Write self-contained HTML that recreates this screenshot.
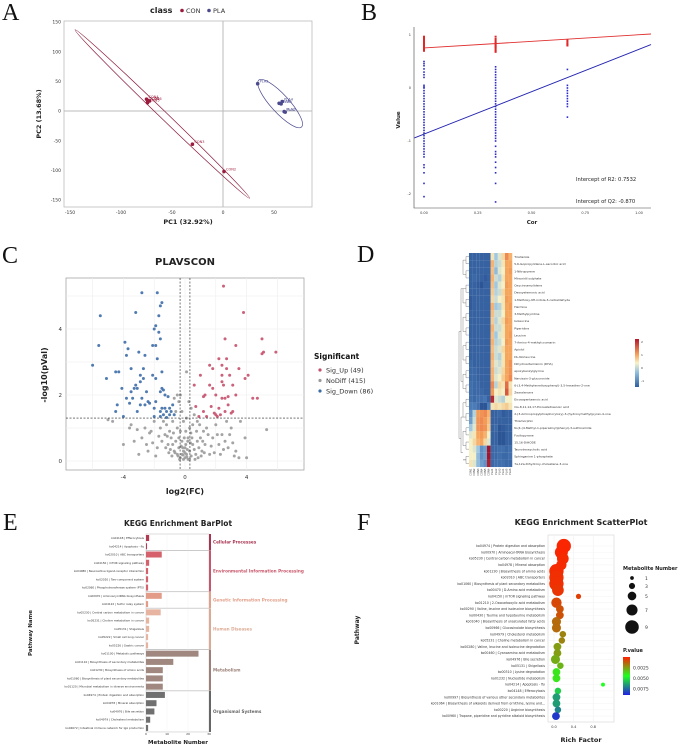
<!DOCTYPE html>
<html><head><meta charset="utf-8"><style>
html,body{margin:0;padding:0;background:#fff;}
svg{display:block;font-family:"DejaVu Sans","Liberation Sans",sans-serif;}
.pl{font-family:"Liberation Serif",serif;font-size:24px;fill:#111;}
</style></head><body>
<svg id="s" width="691" height="746" viewBox="0 0 691 746" xmlns="http://www.w3.org/2000/svg">
<defs>
<linearGradient id="hg" x1="0" y1="0" x2="0" y2="1">
<stop offset="0" stop-color="#b2182b"/><stop offset="0.33" stop-color="#f6a55c"/><stop offset="0.5" stop-color="#f7f2c8"/><stop offset="0.7" stop-color="#8fbfdc"/><stop offset="1" stop-color="#2f5f9f"/>
</linearGradient>
<linearGradient id="pg" x1="0" y1="0" x2="0" y2="1">
<stop offset="0" stop-color="#ff2000"/><stop offset="0.5" stop-color="#20ff20"/><stop offset="1" stop-color="#2020e0"/>
</linearGradient>
</defs>
<text class="pl" x="2" y="20">A</text>
<text class="pl" x="361" y="20">B</text>
<text class="pl" x="2" y="263">C</text>
<text class="pl" x="357" y="262">D</text>
<text class="pl" x="3" y="530">E</text>
<text class="pl" x="357" y="530">F</text>
<g id="gA"></g>
<g id="gB"></g>
<g id="gC"></g>
<g id="gD"></g>
<g id="gE"></g>
<g id="gF"></g>
</svg>
<script>
// ---------- Panel A data ----------
const conLabels=["CON4","CON1","CON6","CON5","CON3","CON2"];
const conPC1=[-75,-74,-72,-74,-30,1];
const conPC2=[20,18,17,14,-56,-102];
const plaLabels=["PLA5","PLA4","PLA6","PLA3","PLA2","PLA7"];
const plaPC1=[34,58,55,57,60,61];
const plaPC2=[46,16,13,12,-1,-2];
const conEllipseEnds=[[-145,137],[26,-147]];
const plaEllipseEnds=[[35,52],[77,-27]];
const aTicks=[-150,-100,-50,0,50];
// ---------- Panel B data ----------
const corLevels=[0,0.333,0.667];
const r2Vals0=[0.97,0.94,0.91,0.88,0.86,0.84,0.82,0.8,0.78,0.76,0.74,0.72,0.7];
const r2Vals1=[0.97,0.93,0.9,0.87,0.85,0.83,0.81,0.79,0.77,0.75,0.72,0.7,0.68];
const r2Vals2=[0.9,0.87,0.84,0.82,0.8];
const q2Vals0=[0.5,0.46,0.42,0.36,0.3,0.25,0.2,0.05,0.02,0,-0.05,-0.1,-0.15,-0.2,-0.25,-0.3,-0.35,-0.4,-0.45,-0.5,-0.55,-0.6,-0.65,-0.7,-0.75,-0.8,-0.85,-0.9,-0.95,-1.0,-1.05,-1.1,-1.15,-1.2,-1.25,-1.3,-1.45,-1.5,-1.6,-1.8,-2.05];
const q2Vals1=[0.4,0.35,0.3,0.25,0.2,0.15,0.1,0.05,0,-0.05,-0.1,-0.15,-0.2,-0.25,-0.3,-0.35,-0.4,-0.45,-0.5,-0.55,-0.6,-0.65,-0.7,-0.75,-0.8,-0.85,-0.9,-0.95,-1.0,-1.1,-1.2,-1.25,-1.3,-1.4,-1.5,-1.6,-1.8,-2.15];
const q2Vals2=[0.35,0.05,0,-0.05,-0.1,-0.15,-0.2,-0.25,-0.3,-0.35,-0.55];
const r2Line=[0.755,0.25];
const q2Line=[-0.87,1.6];
const bXTicks=[0,0.25,0.5,0.75,1.0];
const bXTickLabels=["0.00","0.25","0.50","0.75","1.00"];
const bYTicks=[1,0,-1,-2];
// ---------- Panel C data ----------
const upPts=[[2.5,5.3],[3.8,4.5],[2.6,3.7],[5.0,3.7],[3.3,3.5],[5.9,3.3],[5.0,3.25],[5.1,3.3],[2.2,3.1],[2.7,3.1],[1.6,2.9],[1.8,2.8],[2.4,2.9],[2.7,2.8],[3.5,2.8],[1.0,2.6],[2.4,2.6],[2.9,2.6],[3.9,2.5],[4.1,2.6],[0.6,2.3],[1.6,2.3],[1.8,2.2],[2.5,2.3],[3.1,2.3],[2.4,2.4],[1.3,2.0],[2.0,2.0],[1.2,1.95],[2.6,1.9],[2.4,1.9],[2.8,1.95],[3.3,2.0],[4.4,1.9],[4.7,1.9],[0.7,1.65],[1.7,1.65],[2.8,1.7],[2.2,1.6],[1.2,1.5],[1.9,1.45],[2.0,1.4],[2.1,1.35],[2.3,1.4],[3.0,1.45],[2.6,1.5],[0.9,1.35],[1.4,1.35],[3.1,1.5]];
const downPts=[[-2.8,5.1],[-1.8,5.1],[-5.5,4.4],[-3.2,4.5],[-1.6,4.7],[-1.5,4.8],[-1.7,4.4],[-2.0,4.0],[-1.9,4.1],[-1.7,3.9],[-1.6,3.7],[-2.1,3.5],[-1.9,3.5],[-3.9,3.6],[-3.7,3.4],[-3.0,3.3],[-5.6,3.5],[-3.8,3.2],[-2.6,3.2],[-1.8,3.1],[-6.0,2.9],[-3.5,2.8],[-2.7,2.8],[-4.5,2.7],[-4.3,2.7],[-5.1,2.5],[-2.9,2.6],[-1.5,2.7],[-2.1,2.6],[-2.7,2.5],[-1.9,2.5],[-2.9,2.4],[-4.1,2.2],[-3.2,2.3],[-3.3,2.2],[-3.1,2.2],[-2.5,2.1],[-3.5,2.1],[-1.5,2.2],[-1.4,2.15],[-1.6,2.1],[-1.3,2.0],[-1.1,1.95],[-3.8,1.9],[-3.4,1.9],[-2.8,1.9],[-2.4,1.8],[-3.6,1.75],[-2.9,1.7],[-2.6,1.7],[-1.9,1.8],[-2.3,1.75],[-4.4,1.7],[-4.5,1.5],[-3.1,1.5],[-2.0,1.6],[-1.5,1.6],[-1.3,1.6],[-1.0,1.6],[-0.8,1.7],[-1.6,1.5],[-1.2,1.5],[-1.4,1.4],[-1.0,1.4],[-0.7,1.4],[-2.0,1.35],[-4.0,1.35],[-1.6,1.35],[-1.2,1.32],[-0.9,1.5]];
const noPts=[[-0.3,0.1],[-0.2,0.2],[-0.1,0.3],[0,0.1],[0.1,0.2],[0.2,0.05],[0.3,0.3],[-0.4,0.4],[-0.5,0.2],[0.4,0.15],[0.5,0.5],[-0.6,0.6],[0.6,0.35],[-0.7,0.3],[0.7,0.2],[-0.8,0.5],[0.8,0.6],[-0.9,0.7],[0.9,0.4],[-1.0,0.9],[1.0,0.7],[-1.1,0.5],[1.1,0.3],[-1.2,1.1],[1.2,0.9],[-1.3,0.8],[1.3,0.5],[-1.4,1.2],[1.4,1.0],[-1.5,0.6],[1.5,0.8],[-1.6,1.0],[1.6,0.2],[-1.8,0.4],[1.8,0.7],[-2.0,1.2],[2.0,1.1],[-2.2,0.9],[2.2,0.5],[-2.4,0.3],[2.4,0.8],[-2.6,1.0],[2.6,0.6],[-2.8,0.7],[2.8,0.4],[-3.0,0.2],[3.0,1.0],[-3.3,0.6],[3.3,0.3],[-3.6,1.0],[3.6,1.2],[-4.0,0.5],[3.9,0.7],[-4.7,1.2],[4.0,0.1],[5.3,0.95],[-5.0,1.25],[-3.5,1.1],[3.5,0.1],[-0.2,0.6],[0.2,0.7],[-0.3,0.9],[0.3,1.0],[-0.1,1.2],[0.1,1.3],[-0.5,1.0],[0.5,1.1],[-0.6,1.5],[0.6,1.4],[-0.4,1.8],[-0.5,2.0],[-0.3,2.0],[0.4,1.6],[0.8,1.2],[-0.8,1.2],[0.1,2.7],[0,0.4],[-0.1,0.05],[0.05,0.5],[-0.25,0.45],[0.15,0.35],[0.35,0.55],[-0.45,0.15],[0.45,0.7],[-0.65,0.25],[0.65,0.05],[-0.75,0.85],[0.75,0.9],[-0.85,0.15],[0.85,0.1],[-0.95,0.35],[0.95,1.1],[1.05,0.15],[-1.05,0.25],[1.15,0.6],[-1.15,0.75],[1.25,0.25],[-1.25,0.4],[1.7,0.45],[-1.7,0.75],[1.9,0.25],[-1.9,0.15],[2.1,0.8],[-2.1,0.55],[2.3,0.2],[-2.3,0.85],[2.5,0.35],[-2.5,0.5],[2.7,1.2],[2.9,0.8],[3.1,0.55],[3.2,0.15],[-3.1,0.95],[-0.2,1.5],[0.25,1.8],[-0.7,1.9],[0.3,0.05],[-0.35,0.05],[0,0.25],[0.12,0.12],[-0.12,0.18],[-0.05,0.7],[0.05,0.9],[-0.15,0.4],[0.18,0.6],[-0.4,0.7],[0.38,0.85]];
const cXTicks=[-4,0,4];
const cYTicks=[0,2,4];
const legendLabels=["Sig_Up (49)","NoDiff (415)","Sig_Down (86)"];
// ---------- Panel D data ----------
const heatRows=["Tinidazole","5,6-Isopropylidene-L-ascorbic acid","1-Nitropyrene","Minoxidil sulphate","Oxycinnamylidene","Deoxyelemonic acid","1-Methoxy-9H-indole-3-carbaldehyde","Harmine","3-Methylpyridine","Isoleucine","Piperidine","Leucine","7-Amino-4-methylcoumarin","Apiolol","DL-Norleucine","Dihydroartemisinin (DHA)","epoxybenzylglycine","Narcissin-3-glucuronide","6-(3,4-Methylenedioxyphenyl)-3,5-hexadien-2-one","Zearalenone","Eicosapentaenoic acid","Cis-8,11,14,17-Eicosatetraenoic acid","2-(3-Aminopropylphosphoryloxy)-3-(hydroxymethyl)pyran-4-one","Thiamorphin","N-(4-(4-Methyl-1-piperazinyl)phenyl)-3-sulfonamide","Fucitopyrane","15,16-DiHODE","Taurodeoxycholic acid","Sphinganine 1-phosphate","7a,12a-Dihydroxy-cholestene-3-one"];
const heatCols=["CON1","CON2","CON3","CON4","CON5","CON6","PLA1","PLA2","PLA3","PLA4","PLA5","PLA6"];
const heatVals=[
[-1,-1,-1,-1,-1,-1,0.5,0,0.3,0.6,1.3,0.9],
[-1,-1,-1,-1,-1,-1,0.9,0.1,0.2,0.5,1,1],
[-1,-1,-1,-1,-1,-1,0.8,-0.1,0.3,0.4,1,1.1],
[-1,-0.9,-1,-1,-1.1,-1,0.9,0.2,0.1,0.5,1,1],
[-1,-1,-1.1,-1.2,-1,-1,0.8,0,0.3,0.4,1.1,1],
[-1,-1,-1,-1,-1,-1,0.7,0.1,0.2,0.6,1,1],
[-1.1,-1,-1,-1,-1,-1,0.6,0.2,0.4,0.5,1.1,1],
[-1.1,-1,-1,-1,-1,-1,0.9,0,0.1,0.5,1,1.1],
[-1,-1,-1,-1,-1,-1,0.8,0.2,0.2,0.4,1,1],
[-1,-1,-1,-1,-1,-1,0.7,0.1,0.3,0.6,1.1,1],
[-1,-1,-1,-1,-1,-1,0.9,0.2,0.2,0.5,1,1],
[-1,-1,-1,-1,-1,-1,0.8,0,0.3,0.5,1,1.1],
[-1,-1,-1,-1,-1,-1,0.9,0.1,0.2,0.4,1.1,1],
[-1,-1,-1,-1,-1,-1,0.8,0.2,0.3,0.6,1,1],
[-1,-1,-1,-1,-1,-1,0.9,0.2,0.1,0.5,1,1],
[-0.9,-1,-1,-1,-1,-1,0.8,0.3,0.2,0.5,1,1.2],
[-0.9,-0.9,-1,-1,-1,-1,0.9,0.2,0.3,0.6,1,1.2],
[-0.9,-0.9,-1,-1,-1,-1,0.9,0.3,0.4,0.7,1,1.3],
[-0.8,-0.9,-0.9,-1,-1,-1,1.3,0.1,0.6,0.5,1.6,0.5],
[-0.8,-0.9,-0.9,-0.9,-1,-1,1.1,0.4,0.5,0.4,1.8,0.6],
[-0.8,-0.9,-0.8,-0.8,-0.7,-1,2.2,0.3,0.2,0.1,0.4,0.4],
[-0.6,-0.6,-0.8,-1.3,-1.2,-0.6,0.5,0.6,0.5,0.6,0.7,0.5],
[-0.4,0.1,1.1,1.2,1.3,0.9,-1,-1,-0.9,-1.1,-1,-1],
[-0.3,0.2,1.2,1.3,1.1,0.8,-1,-1,-1,-1,-1,-1],
[0,0.3,1.2,1.3,1.2,0.7,-1,-0.9,-1.2,-1.1,-1,-1],
[0.3,0.5,1,1.1,0.9,0.4,-1,-1,-1.3,-1.2,-1,-1],
[0.4,0.6,0.9,1,0.6,0.3,-1,-1,-1.2,-1.3,-1,-1],
[0.4,0.3,0,-0.4,-0.3,2.4,-0.9,-0.9,-0.8,-0.8,-0.9,-0.8],
[0.4,0.4,-0.1,-0.4,-0.3,2.4,-0.9,-0.9,-0.8,-0.9,-0.9,-0.8],
[0.5,0.3,-0.1,-0.3,-0.4,2.3,-0.9,-0.8,-0.8,-0.8,-0.9,-0.9]];
const heatLegendTicks=[2,1,0,-1];
// ---------- Panel E data ----------
const ePathways=["ko04148 | Efferocytosis","ko04214 | Apoptosis - fly","ko02010 | ABC transporters","ko04150 | mTOR signaling pathway","ko04080 | Neuroactive ligand-receptor interaction","ko02020 | Two-component system","ko02060 | Phosphotransferase system (PTS)","ko00970 | Aminoacyl-tRNA biosynthesis","ko04122 | Sulfur relay system","ko05230 | Central carbon metabolism in cancer","ko05231 | Choline metabolism in cancer","ko05131 | Shigellosis","ko05222 | Small cell lung cancer","ko05226 | Gastric cancer","ko01100 | Metabolic pathways","ko01110 | Biosynthesis of secondary metabolites","ko01230 | Biosynthesis of amino acids","ko01060 | Biosynthesis of plant secondary metabolites","ko01120 | Microbial metabolism in diverse environments","ko04974 | Protein digestion and absorption","ko04978 | Mineral absorption","ko04976 | Bile secretion","ko04979 | Cholesterol metabolism","ko04672 | Intestinal immune network for IgA production"];
const eCounts=[1.5,0.5,7.5,1.5,1,1,1,7.5,1,7,1.5,1.5,1,1,25,13,8,8,8,9,5,4,2,1];
const eGroups=["Cellular Processes","Environmental Information Processing","Genetic Information Processing","Human Diseases","Metabolism","Organismal Systems"];
const eGroupSizes=[2,5,2,5,5,5];
const eTicks=[0,10,20,30];
// ---------- Panel F data ----------
const fPathways=["ko04974 | Protein digestion and absorption","ko00970 | Aminoacyl-tRNA biosynthesis","ko05230 | Central carbon metabolism in cancer","ko04978 | Mineral absorption","ko01230 | Biosynthesis of amino acids","ko02010 | ABC transporters","ko01060 | Biosynthesis of plant secondary metabolites","ko00470 | D-Amino acid metabolism","ko04150 | mTOR signaling pathway","ko01210 | 2-Oxocarboxylic acid metabolism","ko00290 | Valine, leucine and isoleucine biosynthesis","ko00430 | Taurine and hypotaurine metabolism","ko01040 | Biosynthesis of unsaturated fatty acids","ko00966 | Glucosinolate biosynthesis","ko04979 | Cholesterol metabolism","ko05231 | Choline metabolism in cancer","ko00280 | Valine, leucine and isoleucine degradation","ko00460 | Cyanoamino acid metabolism","ko04976 | Bile secretion","ko05131 | Shigellosis","ko00310 | Lysine degradation","ko01232 | Nucleotide metabolism","ko04214 | Apoptosis - fly","ko04148 | Efferocytosis","ko00997 | Biosynthesis of various other secondary metabolites","ko01064 | Biosynthesis of alkaloids derived from ornithine, lysine and...","ko00220 | Arginine biosynthesis","ko00960 | Tropane, piperidine and pyridine alkaloid biosynthesis"];
const fRich=[0.2,0.15,0.18,0.15,0.05,0.05,0.05,0.08,0.5,0.05,0.12,0.12,0.05,0.05,0.18,0.16,0.07,0.07,0.03,0.13,0.05,0.05,1.0,0.08,0.05,0.05,0.08,0.04];
const fCount=[9,8,7,6,9,9,9,7,2,6,4,4,5,5,3,3,4,4,5,3,4,4,1,3,4,4,3,4];
const fPval=[0.0001,0.0001,0.0002,0.0002,0.0002,0.0003,0.0003,0.0004,0.0006,0.0008,0.001,0.001,0.0015,0.0015,0.002,0.002,0.0025,0.0025,0.0028,0.003,0.004,0.004,0.0045,0.0055,0.0065,0.0065,0.007,0.0085];
const fTicks=[0,0.4,0.8];
const fSizeLegend=[1,3,5,7,9];
const fPLegend=[0.0025,0.005,0.0075];

const NS="http://www.w3.org/2000/svg";
function mk(tag,attrs,parent){const e=document.createElementNS(NS,tag);for(const k in attrs)e.setAttribute(k,attrs[k]);parent.appendChild(e);return e;}
function tx(str,attrs,parent){const e=mk("text",attrs,parent);e.textContent=str;return e;}

// ===== Panel A =====
(function(){
const g=document.getElementById("gA");
const ax=v=>223+v*1.02, ay=v=>111-v*0.593;
let el=mk("rect",{x:64,y:21,width:248,height:186,fill:"#fff",stroke:"#bbb","stroke-width":0.8},g);


el=mk("line",{x1:ax(0),x2:ax(0),y1:21,y2:207,stroke:"#bbb","stroke-width":1},g);


el=mk("line",{x1:64,x2:312,y1:ay(0),y2:ay(0),stroke:"#bbb","stroke-width":1},g);


aTicks.forEach(t=>{
 el=tx(String(t),{x:ax(t),y:214,"font-size":4.5,"text-anchor":"middle",fill:"#333"},g);
 
 
});
[150,100,50,0,-50,-100,-150].forEach(t=>{
 el=tx(String(t),{x:61,y:ay(t)+1.6,"font-size":4.5,"text-anchor":"end",fill:"#333"},g);
 
 
});
function ell(ends,hw,col,name){
 const x1=ax(ends[0][0]),y1=ay(ends[0][1]),x2=ax(ends[1][0]),y2=ay(ends[1][1]);
 const cx=(x1+x2)/2,cy=(y1+y2)/2,rx=Math.hypot(x2-x1,y2-y1)/2,ang=Math.atan2(y2-y1,x2-x1)*180/Math.PI;
 const e=mk("ellipse",{cx:cx,cy:cy,rx:rx,ry:hw,fill:"none",stroke:col,"stroke-width":0.7,transform:`rotate(${ang} ${cx} ${cy})`},g);
 
 
}
ell(conEllipseEnds,3.6,"#8b1a3a","con-ellipse");
ell(plaEllipseEnds,9,"#4b4a8f","pla-ellipse");
function pts(xs,ys,labs,col,name){
 xs.forEach((v,i)=>{
  const p=mk("circle",{cx:ax(v),cy:ay(ys[i]),r:1.8,fill:col},g);
  
  
  const l=tx(labs[i],{x:ax(v)+2,y:ay(ys[i])-1,"font-size":3.5,fill:col},g);
  
  
 });
}
pts(conPC1,conPC2,conLabels,"#9b1b3c","con-point");
pts(plaPC1,plaPC2,plaLabels,"#4b4a8f","pla-point");
el=tx("class",{x:150,y:13,"font-size":8,"font-weight":"bold",fill:"#222"},g);


el=mk("circle",{cx:182,cy:10.5,r:1.8,fill:"#9b1b3c"},g);


el=tx("CON",{x:186,y:13,"font-size":6.5,fill:"#333"},g);


el=mk("circle",{cx:209,cy:10.5,r:1.8,fill:"#4b4a8f"},g);


el=tx("PLA",{x:213,y:13,"font-size":6.5,fill:"#333"},g);


el=tx("PC1 (32.92%)",{x:188,y:224,"font-size":6.5,"font-weight":"bold","text-anchor":"middle",fill:"#222"},g);


el=tx("PC2 (13.68%)",{x:0,y:0,"font-size":6.5,"font-weight":"bold","text-anchor":"middle",fill:"#222",transform:"translate(41,114) rotate(-90)"},g);


})();

// ===== Panel B =====
(function(){
const g=document.getElementById("gB");
const bx=v=>424+v*215, by=v=>88-53*v;
let el=mk("path",{d:"M414 27 V208 H651",fill:"none",stroke:"#444","stroke-width":0.6},g);


bXTicks.forEach((t,i)=>{
 el=tx(bXTickLabels[i],{x:bx(t),y:214,"font-size":3.5,"text-anchor":"middle",fill:"#333"},g);
 
 
});
bYTicks.forEach(t=>{
 el=tx(String(t),{x:411,y:by(t)+1.2,"font-size":3.5,"text-anchor":"end",fill:"#333"},g);
 
 
});
const qSets=[q2Vals0,q2Vals1,q2Vals2], rSets=[r2Vals0,r2Vals1,r2Vals2];
qSets.forEach((set,k)=>set.forEach(v=>{
 const p=mk("rect",{x:bx(corLevels[k])-0.8,y:by(v)-0.8,width:1.6,height:1.6,fill:"#2a2ac8"},g);
 
 
}));
rSets.forEach((set,k)=>set.forEach(v=>{
 const p=mk("rect",{x:bx(corLevels[k])-1,y:by(v)-0.9,width:2,height:1.8,fill:"#e02828"},g);
 
 
}));
const xe=(651-424)/215;
el=mk("line",{x1:bx(0),y1:by(r2Line[0]),x2:bx(xe),y2:by(r2Line[0]+r2Line[1]*xe),stroke:"#e03030","stroke-width":0.9},g);


el=mk("line",{x1:bx(-0.045),y1:by(q2Line[0]-q2Line[1]*0.045),x2:bx(xe),y2:by(q2Line[0]+q2Line[1]*xe),stroke:"#2222b0","stroke-width":0.9},g);


el=tx("Intercept of R2: 0.7532",{x:576,y:181,"font-size":5.2,fill:"#222"},g);


el=tx("Intercept of Q2: -0.870",{x:576,y:203,"font-size":5.2,fill:"#222"},g);


el=tx("Cor",{x:532,y:224,"font-size":5.5,"font-weight":"bold","text-anchor":"middle",fill:"#222"},g);


el=tx("Value",{x:0,y:0,"font-size":5.5,"font-weight":"bold","text-anchor":"middle",fill:"#222",transform:"translate(400,120) rotate(-90)"},g);


})();

// ===== Panel C =====
(function(){
const g=document.getElementById("gC");
const cx=v=>185+v*15.4, cy=v=>461-v*33;
let el=mk("rect",{x:66,y:278,width:238,height:192,fill:"#fff",stroke:"#999","stroke-width":0.7},g);


[-6,-4,-2,0,2,4,6].forEach(t=>{
 el=mk("line",{x1:cx(t),x2:cx(t),y1:278,y2:470,stroke:"#eee","stroke-width":0.6},g);
 
 
});
[0,1,2,3,4,5].forEach(t=>{
 el=mk("line",{x1:66,x2:304,y1:cy(t),y2:cy(t),stroke:"#eee","stroke-width":0.6},g);
 
 
});
function pts(arr,col,name){arr.forEach(p=>{
 const c=mk("circle",{cx:cx(p[0]),cy:cy(p[1]),r:1.5,fill:col,"fill-opacity":0.9},g);
 
 
});}
pts(noPts,"#9a9a9a","nodiff-point");
pts(downPts,"#3d6da8","sig-down-point");
pts(upPts,"#c5506b","sig-up-point");
el=mk("line",{x1:66,x2:304,y1:cy(1.3),y2:cy(1.3),stroke:"#222","stroke-width":0.6,"stroke-dasharray":"2,1.5"},g);


[-0.32,0.32].forEach(t=>{
 el=mk("line",{x1:cx(t),x2:cx(t),y1:278,y2:470,stroke:"#222","stroke-width":0.6,"stroke-dasharray":"2,1.5"},g);
 
 
});
cXTicks.forEach(t=>{
 el=tx(String(t),{x:cx(t),y:479,"font-size":5.5,"text-anchor":"middle",fill:"#333"},g);
 
 
});
cYTicks.forEach(t=>{
 el=tx(String(t),{x:62,y:cy(t)+2,"font-size":5.5,"text-anchor":"end",fill:"#333"},g);
 
 
});
el=tx("PLAVSCON",{x:185,y:265,"font-size":10,"font-weight":"bold","text-anchor":"middle",fill:"#222"},g);


el=tx("log2(FC)",{x:185,y:494,"font-size":8,"font-weight":"bold","text-anchor":"middle",fill:"#222"},g);


el=tx("-log10(pVal)",{x:0,y:0,"font-size":8,"font-weight":"bold","text-anchor":"middle",fill:"#222",transform:"translate(47,375) rotate(-90)"},g);


el=tx("Significant",{x:314,y:359,"font-size":7.5,"font-weight":"bold",fill:"#111"},g);


const lc=["#c5506b","#9a9a9a","#3d6da8"];
legendLabels.forEach((s,i)=>{
 el=mk("circle",{cx:320,cy:370+i*10.5,r:1.6,fill:lc[i]},g);
 
 
 el=tx(s,{x:326,y:372.5+i*10.5,"font-size":6.5,fill:"#333"},g);
 
 
});
})();

// ===== Panel D =====
(function(){
const g=document.getElementById("gD");
const x0=469,cw=3.6,y0=253,rh=214/30;
function hcol(v){
 const st=[[-1.2,[44,85,150]],[-0.5,[80,130,190]],[0,[160,200,225]],[0.4,[245,240,200]],[1,[246,165,92]],[1.6,[230,110,70]],[2.4,[165,20,40]]];
 if(v<=st[0][0])return`rgb(${st[0][1]})`;
 for(let i=1;i<st.length;i++){if(v<=st[i][0]){const a=st[i-1],b=st[i],t=(v-a[0])/(b[0]-a[0]);return`rgb(${a[1].map((c,j)=>Math.round(c+(b[1][j]-c)*t))})`;}}
 return`rgb(${st[st.length-1][1]})`;
}
heatVals.forEach((row,r)=>{
 row.forEach((v,c)=>{
  const e=mk("rect",{x:x0+c*cw,y:y0+r*rh,width:cw+0.05,height:rh+0.05,fill:hcol(v)},g);
  
  
 });
 const l=tx(heatRows[r],{x:x0+12*cw+2,y:y0+r*rh+rh*0.7,"font-size":3,fill:"#333"},g);
 
 
});
heatCols.forEach((s,c)=>{
 const l=tx(s,{x:0,y:0,"font-size":2.5,fill:"#333","text-anchor":"end",transform:`translate(${x0+c*cw+2.6},${y0+30*rh+1.5}) rotate(-90)`},g);
 
 
});
// dendrogram
let d="";
for(let r=0;r<30;r+=2){const ya=y0+(r+0.5)*rh,yb=y0+(r+1.5)*rh;d+=`M${x0} ${ya}H${x0-3}V${yb}H${x0} `;}
for(let r=0;r<30;r+=4){const ya=y0+(r+1)*rh,yb=y0+Math.min(r+3,29)*rh;d+=`M${x0-3} ${ya}H${x0-6}V${yb}H${x0-3} `;}
const top=y0+11*rh,bot=y0+26*rh;
d+=`M${x0-6} ${y0+5*rh}H${x0-8}V${y0+18*rh}H${x0-6} M${x0-6} ${y0+23*rh}H${x0-8}V${y0+28*rh}H${x0-6} M${x0-8} ${top}H${x0-10}V${bot}H${x0-8}`;
let el=mk("path",{d:d,fill:"none",stroke:"#555","stroke-width":0.35},g);


el=mk("rect",{x:635,y:339,width:4,height:48,fill:"url(#hg)"},g);


heatLegendTicks.forEach((t,i)=>{
 el=tx(String(t),{x:641,y:343+i*13,"font-size":3,fill:"#333"},g);
 
 
});
})();

// ===== Panel E =====
(function(){
const g=document.getElementById("gE");
const ex=v=>146+v*2.1, rowY=i=>538+i*8.26;
const gCol=["#a8324f","#c8566a","#e3a08a","#dcaa94","#9c8078","#666"];
const bCol=["#b23a52","#d4616b","#e39c88","#e8b4a2","#a08880","#707070"];
let el=tx("KEGG Enrichment BarPlot",{x:178,y:526,"font-size":7.5,"font-weight":"bold","text-anchor":"middle",fill:"#222"},g);


let idx=0;
eGroups.forEach((name,gi)=>{
 const n=eGroupSizes[gi], yT=rowY(idx)-4, yB=rowY(idx+n-1)+4;
 const b=mk("rect",{x:146,y:yT,width:63,height:yB-yT,fill:"#fff",stroke:"#bbb","stroke-width":0.5},g);
 
 
 eTicks.forEach(t=>{
  const gl=mk("line",{x1:ex(t),x2:ex(t),y1:yT,y2:yB,stroke:"#eee","stroke-width":0.4},g);
  
  
 });
 const s=mk("rect",{x:209,y:yT,width:2,height:yB-yT,fill:gCol[gi]},g);
 
 
 const l=tx(name,{x:213,y:(yT+yB)/2+1.5,"font-size":4.2,"font-weight":"bold",fill:gCol[gi]},g);
 
 
 for(let k=0;k<n;k++){
  const i=idx+k;
  const r=mk("rect",{x:146,y:rowY(i)-3,width:ex(eCounts[i])-146,height:6,fill:bCol[gi]},g);
  
  
  const t=tx(ePathways[i],{x:144,y:rowY(i)+1,"font-size":2.8,"text-anchor":"end",fill:"#333"},g);
  
  
 }
 idx+=n;
});
eTicks.forEach(t=>{
 el=tx(String(t),{x:ex(t),y:735,"font-size":3,"text-anchor":"middle",fill:"#333"},g);
 
 
});
el=tx("Metabolite Number",{x:178,y:744,"font-size":5.5,"font-weight":"bold","text-anchor":"middle",fill:"#222"},g);


el=tx("Pathway Name",{x:0,y:0,"font-size":5.5,"font-weight":"bold","text-anchor":"middle",fill:"#222",transform:"translate(32,633) rotate(-90)"},g);


})();

// ===== Panel F =====
(function(){
const g=document.getElementById("gF");
const fx=v=>554+v*49, rowY=i=>546+i*6.3;
const rad=c=>1.3+c*0.65;
function pcol(p){
 const t=Math.min(1,p/0.009);
 let a,b,u;
 if(t<0.5){a=[255,32,0];b=[32,255,32];u=t/0.5;}else{a=[32,255,32];b=[32,32,224];u=(t-0.5)/0.5;}
 return`rgb(${a.map((c,j)=>Math.round(c+(b[j]-c)*u))})`;
}
let el=tx("KEGG Enrichment ScatterPlot",{x:581,y:525,"font-size":8,"font-weight":"bold","text-anchor":"middle",fill:"#222"},g);


el=mk("rect",{x:548,y:535,width:66,height:187,fill:"#fff",stroke:"#ccc","stroke-width":0.5},g);


fTicks.forEach(t=>{
 el=mk("line",{x1:fx(t),x2:fx(t),y1:535,y2:722,stroke:"#eee","stroke-width":0.5},g);
 
 
 el=tx(t.toFixed(1),{x:fx(t),y:728,"font-size":3.5,"text-anchor":"middle",fill:"#333"},g);
 
 
});
fPathways.forEach((s,i)=>{
 el=mk("line",{x1:548,x2:614,y1:rowY(i),y2:rowY(i),stroke:"#f0f0f0","stroke-width":0.4},g);
 
 
 el=tx(s,{x:545,y:rowY(i)+1.1,"font-size":3.2,"text-anchor":"end",fill:"#333"},g);
 
 
});
fPathways.forEach((s,i)=>{
 const c=mk("circle",{cx:fx(fRich[i]),cy:rowY(i),r:rad(fCount[i]),fill:pcol(fPval[i])},g);
 
 
});
el=tx("Rich Factor",{x:581,y:742,"font-size":6.5,"font-weight":"bold","text-anchor":"middle",fill:"#222"},g);


el=tx("Pathway",{x:0,y:0,"font-size":6,"font-weight":"bold","text-anchor":"middle",fill:"#222",transform:"translate(359,630) rotate(-90)"},g);


el=tx("Metabolite Number",{x:623,y:570,"font-size":5,"font-weight":"bold",fill:"#222"},g);


const ly=[578,586,596,610,627];
fSizeLegend.forEach((c,i)=>{
 el=mk("circle",{cx:632,cy:ly[i],r:rad(c)*0.95,fill:"#111"},g);
 
 
 el=tx(String(c),{x:645,y:ly[i]+1.8,"font-size":4.5,fill:"#333"},g);
 
 
});
el=tx("P.value",{x:623,y:652,"font-size":5,"font-weight":"bold",fill:"#222"},g);


el=mk("rect",{x:623,y:657,width:7,height:38,fill:"url(#pg)"},g);


fPLegend.forEach(p=>{
 el=tx(p.toFixed(4),{x:633,y:657+38*p/0.009+1.8,"font-size":4.5,fill:"#333"},g);
 
 
});
})();
</script>
</body></html>
